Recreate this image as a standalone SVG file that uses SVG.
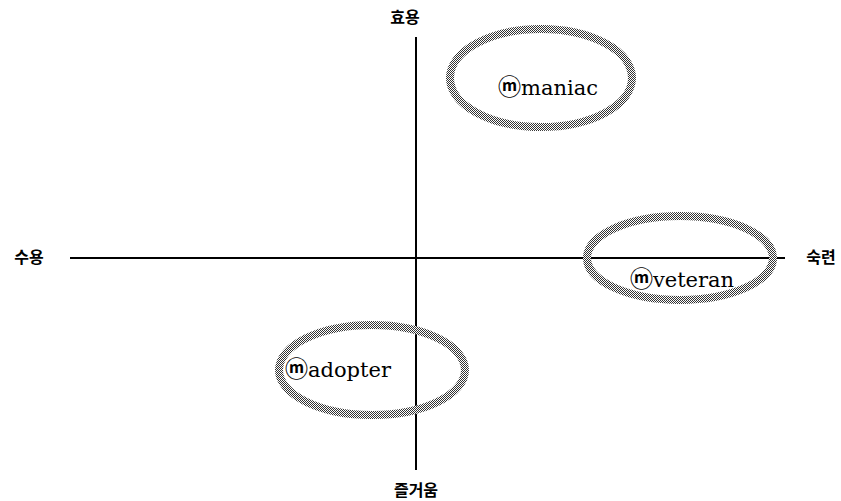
<svg xmlns="http://www.w3.org/2000/svg" width="841" height="501" viewBox="0 0 841 501">
<defs>
<pattern id="dither" patternUnits="userSpaceOnUse" width="2" height="2">
<rect width="2" height="2" fill="#ffffff"/>
<rect x="0" y="0" width="1" height="1" fill="#333"/>
<rect x="1" y="1" width="1" height="1" fill="#333"/>
</pattern>
</defs>
<style>
.axis{stroke:#000;stroke-width:2;fill:none}
.ring{fill:none;stroke:url(#dither);stroke-width:8}
.lbl{font-family:"Noto Sans CJK KR","Noto Sans",sans-serif;font-weight:bold;font-size:16px;fill:#000}
.nt{font-family:"DejaVu Serif","Liberation Serif","Noto Sans CJK KR",serif;font-size:21px;fill:#000}
.m{font-family:"Noto Sans CJK KR","DejaVu Sans",sans-serif;font-size:23px;font-weight:bold}
</style>
<g id="connectors">
<line class="axis" x1="70" y1="258" x2="785" y2="258"/>
<line class="axis" x1="416" y1="37" x2="416" y2="470"/>
</g>
<g id="axis-labels">
<text class="lbl" x="29" y="263" text-anchor="middle">수용</text>
<text class="lbl" x="821" y="263" text-anchor="middle">숙련</text>
<text class="lbl" x="405" y="23" text-anchor="middle">효용</text>
<text class="lbl" x="416" y="496" text-anchor="middle">즐거움</text>
</g>
<g id="maniac">
<ellipse class="ring" cx="541" cy="78" rx="91" ry="49"/>
<text class="nt" x="548" y="95" text-anchor="middle"><tspan class="m">ⓜ</tspan>maniac</text>
</g>
<g id="veteran">
<ellipse class="ring" cx="680" cy="258" rx="93" ry="42"/>
<text class="nt" x="682" y="287" text-anchor="middle"><tspan class="m">ⓜ</tspan>veteran</text>
</g>
<g id="adopter">
<ellipse class="ring" cx="372" cy="370" rx="93" ry="45"/>
<text class="nt" x="338" y="377" text-anchor="middle"><tspan class="m">ⓜ</tspan>adopter</text>
</g>
</svg>
